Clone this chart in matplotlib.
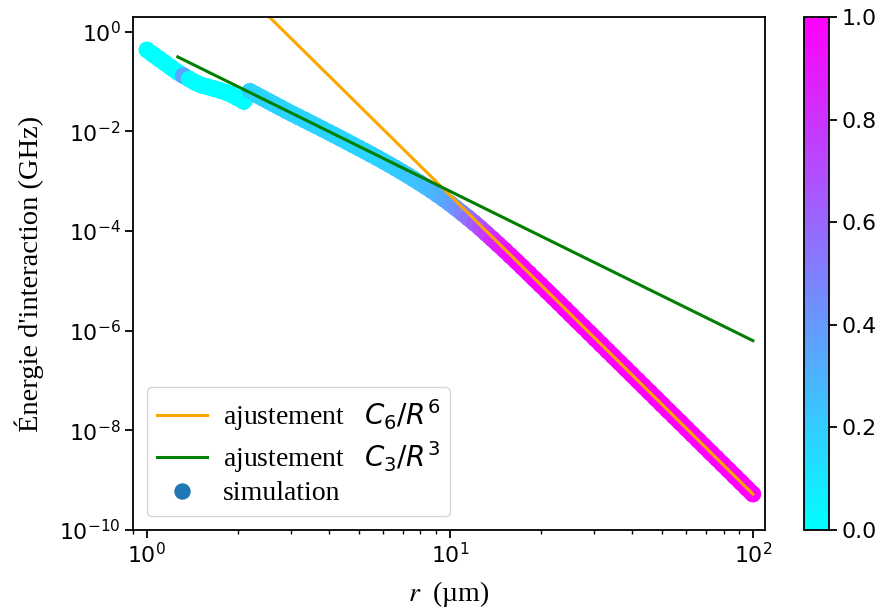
import numpy as np
import matplotlib
matplotlib.use("Agg")
import matplotlib.pyplot as plt
from matplotlib.collections import LineCollection
from matplotlib.lines import Line2D

# simulated interaction energy vs distance
r_um = [1.000, 1.047, 1.096, 1.148, 1.202, 1.259, 1.318, 1.380, 1.445, 1.514,
        1.585, 1.660, 1.738, 1.820, 1.905, 1.995, 2.089, 2.188, 2.291, 2.399,
        2.512, 2.630, 2.754, 2.884, 3.020, 3.162, 3.311, 3.467, 3.631, 3.802,
        3.981, 4.169, 4.365, 4.571, 4.786, 5.012, 5.248, 5.495, 5.754, 6.026,
        6.310, 6.607, 6.918, 7.244, 7.586, 7.943, 8.318, 8.710, 9.120, 9.550,
        10.00, 10.47, 10.96, 11.48, 12.02, 12.59, 13.18, 13.80, 14.45, 15.14,
        15.85, 16.60, 17.38, 18.20, 19.05, 19.95, 20.89, 21.88, 22.91, 23.99,
        25.12, 26.30, 27.54, 28.84, 30.20, 31.62, 33.11, 34.67, 36.31, 38.02,
        39.81, 41.69, 43.65, 45.71, 47.86, 50.12, 52.48, 54.95, 57.54, 60.26,
        63.10, 66.07, 69.18, 72.44, 75.86, 79.43, 83.18, 87.10, 91.20, 95.50,
        100.0]
energy = [0.430, 0.351, 0.286, 0.234, 0.191, 0.156, 0.132, 0.112, 0.0955, 0.0841,
          0.0785, 0.0724, 0.0668, 0.0610, 0.0543, 0.0468, 0.0398, 0.0634, 0.0546, 0.0471,
          0.0406, 0.0349, 0.0301, 0.0259, 0.0225, 0.0195, 0.0170, 0.0147, 0.0128, 0.0111,
          0.00961, 0.00832, 0.00720, 0.00622, 0.00537, 0.00464, 0.00400, 0.00344, 0.00295, 0.00253,
          0.00216, 0.00184, 0.00156, 0.00132, 0.00111, 9.34e-4, 7.80e-4, 6.48e-4, 5.34e-4, 4.38e-4,
          3.57e-4, 2.88e-4, 2.31e-4, 1.84e-4, 1.46e-4, 1.15e-4, 8.95e-5, 6.95e-5, 5.37e-5, 4.14e-5,
          3.18e-5, 2.44e-5, 1.86e-5, 1.42e-5, 1.08e-5, 8.23e-6, 6.26e-6, 4.76e-6, 3.62e-6, 2.75e-6,
          2.08e-6, 1.58e-6, 1.20e-6, 9.12e-7, 6.92e-7, 5.25e-7, 3.98e-7, 3.02e-7, 2.29e-7, 1.74e-7,
          1.32e-7, 1.00e-7, 7.59e-8, 5.76e-8, 4.37e-8, 3.31e-8, 2.51e-8, 1.91e-8, 1.45e-8, 1.10e-8,
          8.32e-9, 6.31e-9, 4.79e-9, 3.63e-9, 2.76e-9, 2.09e-9, 1.59e-9, 1.20e-9, 9.13e-10, 6.92e-10,
          5.25e-10]
weight = [0.0, 0.0, 0.0, 0.0, 0.0, 0.0, 0.35, 0.0, 0.0, 0.0,
          0.0, 0.0, 0.0, 0.0, 0.0, 0.0, 0.0, 0.17, 0.17, 0.17,
          0.17, 0.17, 0.17, 0.17, 0.17, 0.17, 0.17, 0.17, 0.17, 0.17,
          0.17, 0.17, 0.17, 0.17, 0.17, 0.17, 0.17, 0.17, 0.17, 0.18,
          0.19, 0.20, 0.21, 0.22, 0.23, 0.24, 0.26, 0.28, 0.30, 0.33,
          0.37, 0.42, 0.48, 0.55, 0.62, 0.69, 0.76, 0.83, 0.88, 0.92,
          0.95, 0.97, 0.98, 0.99, 1.0, 1.0, 1.0, 1.0, 1.0, 1.0,
          1.0, 1.0, 1.0, 1.0, 1.0, 1.0, 1.0, 1.0, 1.0, 1.0,
          1.0, 1.0, 1.0, 1.0, 1.0, 1.0, 1.0, 1.0, 1.0, 1.0,
          1.0, 1.0, 1.0, 1.0, 1.0, 1.0, 1.0, 1.0, 1.0, 1.0,
          1.0]

# fits (end points)
r_fit = [1.265, 100.0]
fit_c6 = [128.0, 5.25e-10]
fit_c3 = [0.311, 6.3e-7]

serif = "Liberation Serif"
msize = 140  # scatter marker area

fig = plt.figure(figsize=(8.87, 6.13), dpi=100)
ax = fig.add_axes([0.1499, 0.1354, 0.7125, 0.8369])
cax = fig.add_axes([0.9064, 0.1354, 0.0282, 0.8369])

ax.set_xscale("log")
ax.set_yscale("log")

# thick tube joining the simulated points so the trace looks continuous
pts = np.column_stack([r_um, energy])
segs = np.stack([pts[:-1], pts[1:]], axis=1)
wseg = 0.5 * (np.array(weight[:-1]) + np.array(weight[1:]))
tube = LineCollection(segs, cmap="cool", norm=plt.Normalize(0, 1),
                      linewidths=np.sqrt(msize), capstyle="round", zorder=1)
tube.set_array(wseg)
ax.add_collection(tube)

sc = ax.scatter(r_um, energy, c=weight, cmap="cool", vmin=0, vmax=1, s=msize,
                linewidths=0, zorder=1.1)
l6, = ax.plot(r_fit, fit_c6, color="orange", lw=2.2)
l3, = ax.plot(r_fit, fit_c3, color="green", lw=2.2)

ax.set_xlim(0.90, 109.6)
ax.set_ylim(1e-10, 1.97)

ax.set_xlabel("$r$  (µm)", family=serif, fontsize=20, math_fontfamily="stix",
              labelpad=8)
ax.set_ylabel("Énergie d'interaction (GHz)", family=serif, fontsize=20.5,
              labelpad=11)

ax.tick_params(which="major", labelsize=15.8, length=5.5, width=1.3)
ax.tick_params(which="minor", length=3.2, width=1.0)
for s in ax.spines.values():
    s.set_linewidth(1.3)

sim_handle = Line2D([], [], ls="none", marker="o", ms=np.sqrt(msize),
                    color="#1f77b4", mec="none")
ax.legend([l6, l3, sim_handle],
          [r"ajustement   $C_6/R^6$", r"ajustement   $C_3/R^3$", "simulation"],
          loc="lower left", prop={"family": serif, "size": 20},
          labelspacing=0.22, handlelength=1.8, handletextpad=0.6,
          borderpad=0.35)

cb = fig.colorbar(sc, cax=cax)
cb.ax.tick_params(labelsize=15.8, length=5.5, width=1.3)
cb.outline.set_linewidth(1.3)

fig.savefig("out.png", dpi=100)
